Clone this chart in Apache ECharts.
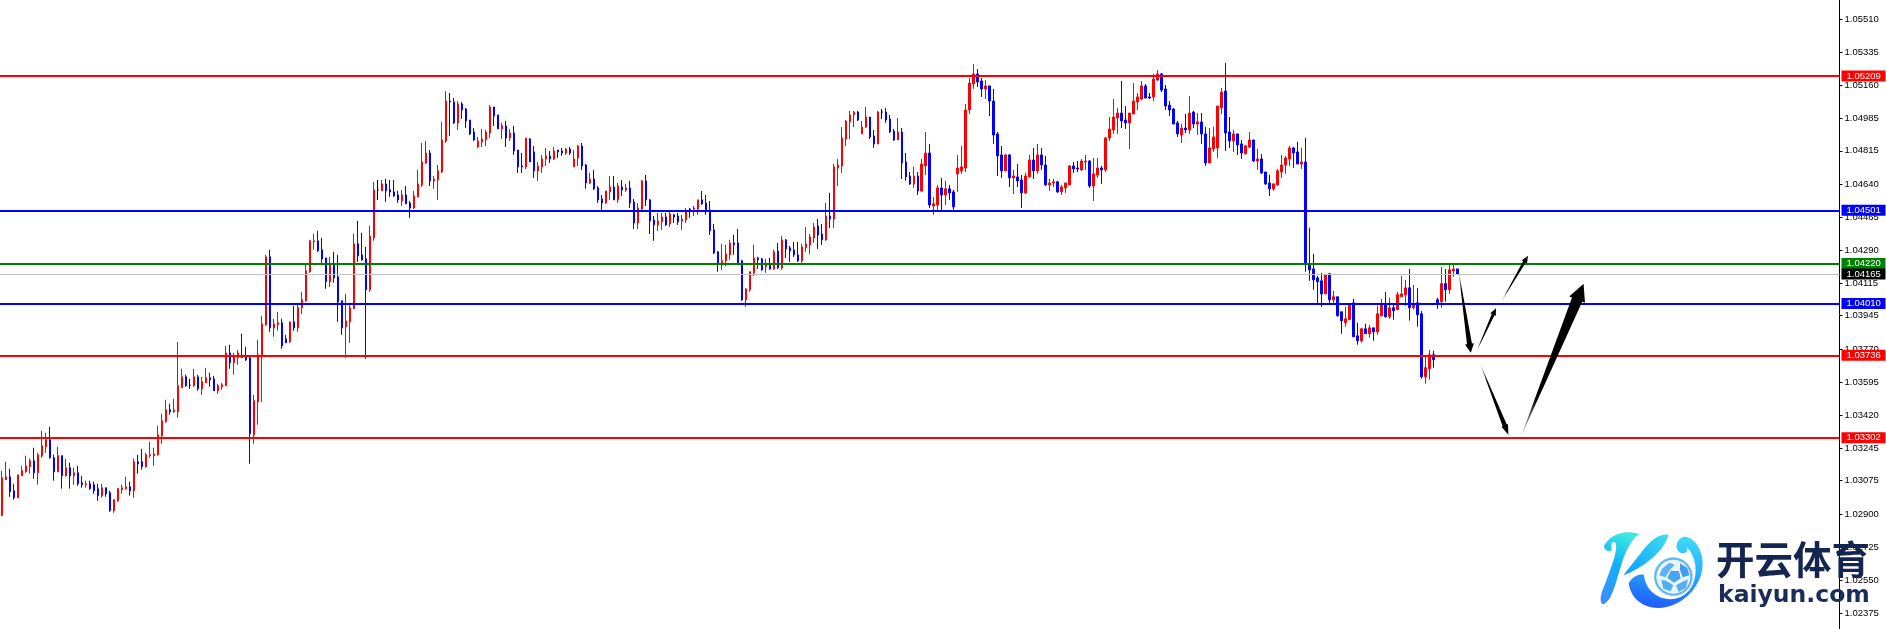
<!DOCTYPE html>
<html><head><meta charset="utf-8">
<style>html,body{margin:0;padding:0;background:#fff}#c{width:1886px;height:629px}</style>
<script src="https://cdn.jsdelivr.net/npm/echarts@6/dist/echarts.min.js"></script>
</head><body><div id="c"></div>
<script>
// Quotes are [open, high, low, close] in points above 1.00000 (1 point = 0.00001)
const barsRallyA = [
[2892,3127,2887,3091],[3080,3175,3080,3096],[3096,3138,2990,3017],[3022,3059,2975,2985],[2985,3106,2985,3106],[3101,3154,3101,3128],[3122,3207,3117,3154],[3149,3191,3112,3180],[3180,3249,3085,3117],[3117,3222,3054,3212],
[3207,3338,3196,3259],[3254,3328,3222,3291],[3291,3359,3191,3196],[3196,3212,3075,3122],[3122,3254,3122,3207],[3207,3207,3033,3101],[3101,3191,3096,3143],[3143,3170,3033,3101],[3101,3143,3054,3117],[3117,3154,3048,3059],
[3064,3101,3038,3054],[3054,3075,3038,3059],[3059,3075,3027,3033],[3054,3070,3006,3022],[3033,3059,2969,2996],[2996,3059,2985,3038],[3038,3038,2990,3006],[3012,3022,2911,2917],[2917,2975,2906,2975],[2969,3038,2964,3033],
[3027,3054,3006,3038],[3033,3096,3027,3043],[3043,3070,2996,3022],[3022,3191,2985,3175],[3175,3212,3112,3164],[3175,3243,3133,3149],[3149,3222,3143,3212],[3207,3280,3196,3212],[3207,3249,3154,3217],[3212,3365,3207,3317],
[3312,3428,3270,3391],[3386,3502,3381,3449],[3449,3481,3423,3438],[3438,3507,3433,3449],[3438,3807,3407,3576],[3565,3665,3565,3623],[3623,3634,3570,3576],[3579,3612,3560,3579],[3576,3665,3570,3623],[3623,3634,3549,3560],
[3560,3623,3528,3597],[3591,3670,3591,3618],[3618,3644,3570,3607],[3612,3628,3549,3549],[3549,3586,3533,3576],[3570,3591,3554,3581],[3576,3786,3576,3749],[3749,3792,3665,3697],[3697,3749,3634,3728],[3723,3765,3686,3749]
];
const barsRallyB = [
[3737,3850,3721,3725],[3734,3781,3707,3713],[3723,3730,3165,3323],[3317,3528,3270,3497],[3491,3818,3370,3739],[3739,3945,3491,3902],[3897,4266,3892,4256],[4256,4293,3860,3881],[3881,3929,3834,3902],[3897,3966,3866,3908],
[3908,3929,3771,3786],[3823,3844,3802,3802],[3808,3913,3802,3913],[3913,3997,3866,3881],[3881,4008,3860,3987],[3987,4071,3955,4029],[4024,4213,4018,4182],[4177,4345,4171,4340],[4335,4377,4293,4340],[4340,4393,4282,4287],
[4293,4356,4224,4245],[4250,4250,4087,4124],[4124,4256,4097,4219],[4219,4282,4119,4145],[4150,4266,3913,4018],[4024,4024,3844,3881],[3887,4061,3723,3918],[3913,4013,3802,3987],[3982,4377,3982,4324],[4324,4445,4229,4261],
[4266,4382,4235,4240],[4245,4308,3718,4082],[4082,4419,4071,4366],[4356,4651,4340,4609],[4609,4661,4556,4609],[4604,4661,4604,4640],[4640,4667,4546,4604],[4609,4661,4572,4598],[4598,4661,4572,4577],[4582,4604,4540,4556]
];
const barsPullback = [
[4550,4608,4524,4582],[4582,4629,4535,4535],[4540,4550,4461,4513],[4513,4603,4508,4577],[4571,4714,4571,4640],[4635,4856,4624,4756],[4751,4867,4745,4803],[4803,4819,4629,4656],[4656,4682,4614,4666],[4661,4740,4556,4709],
[4703,4967,4698,4872],[4867,5130,4856,5077],[5077,5120,4893,5072],[5072,5093,4956,4962],[4962,5077,4925,5062],[5062,5072,4983,5030],[5035,5041,4935,4972],[4977,4977,4898,4904],[4914,4935,4867,4872],[4835,4888,4830,4867],
[4861,4930,4835,4877],[4872,4925,4840,4914],[4909,5056,4882,5046],[5046,5046,4946,4998],[5004,5004,4930,4930],[4930,4962,4877,4946],[4946,4972,4835,4882],[4882,4930,4867,4909],[4909,4946,4793,4814],[4819,4819,4698,4730],
[4735,4803,4698,4730],[4730,4882,4719,4882],[4877,4882,4756,4756],[4809,4840,4672,4709],[4709,4756,4656,4735],[4730,4793,4698,4772],[4772,4830,4735,4788],[4788,4814,4751,4772],[4772,4835,4766,4814],[4819,4819,4777,4809],
[4814,4830,4788,4803],[4803,4830,4793,4824],[4824,4835,4793,4803],[4730,4819,4730,4772],[4777,4846,4735,4840],[4840,4856,4714,4735],[4740,4745,4614,4645],[4645,4698,4640,4666],[4666,4714,4608,4614],[4619,4629,4540,4556],
[4561,4582,4503,4540],[4540,4603,4535,4603],[4598,4682,4556,4624],[4624,4682,4556,4556],[4556,4645,4540,4629],[4624,4661,4577,4608],[4608,4640,4598,4619],[4619,4656,4513,4540],[4545,4561,4403,4434],[4434,4540,4403,4513],
[4508,4661,4503,4656],[4656,4687,4524,4556],[4556,4561,4376,4445],[4450,4471,4340,4424],[4424,4487,4392,4445],[4440,4487,4398,4466],[4466,4487,4419,4424],[4429,4492,4413,4482],[4477,4482,4434,4466],[4471,4487,4424,4440],
[4445,4477,4398,4455],[4450,4513,4434,4498],[4508,4513,4461,4503],[4508,4524,4471,4513],[4508,4556,4477,4556],[4556,4603,4529,4535],[4540,4582,4477,4498],[4503,4550,4371,4392],[4398,4429,4271,4276],[4282,4287,4177,4224],
[4224,4324,4187,4235],[4235,4319,4208,4271],[4266,4345,4240,4329],[4329,4372,4266,4319],[4329,4403,4219,4224],[4235,4240,4024,4029],[4029,4087,3992,4087],[4082,4177,4071,4177],[4171,4319,4155,4250],[4250,4256,4192,4240],
[4245,4250,4182,4187],[4203,4245,4171,4213],[4213,4250,4187,4192],[4192,4293,4187,4282],[4287,4329,4192,4198]
];
const barsRange = [
[4197,4366,4187,4345],[4345,4350,4250,4297],[4303,4313,4229,4287],[4292,4334,4255,4266],[4266,4334,4229,4234],[4234,4324,4224,4308],[4303,4413,4282,4324],[4318,4376,4271,4361],[4355,4434,4329,4413],[4419,4455,4297,4371],
[4376,4429,4318,4345],[4345,4540,4340,4471],[4471,4593,4408,4455],[4455,4745,4408,4730],[4724,4772,4629,4740],[4735,4940,4698,4882],[4877,4977,4840,4972],[4967,5025,4877,5004],[5004,5025,4940,5019],[5019,5025,4972,4977],
[4904,4972,4904,4940],[4940,5046,4935,4993],[4993,4993,4877,4888],[4893,4925,4830,4851],[4851,5025,4851,5019],[5019,5035,4983,5019],[5019,5041,4962,4977],[4983,5004,4909,4914],[4919,4930,4867,4872],[4872,4988,4872,4914],
[4914,4935,4666,4751],[4756,4803,4656,4677],[4682,4703,4635,4640],[4640,4730,4619,4682],[4682,4703,4582,4603],[4603,4772,4598,4745],[4735,4914,4687,4803],[4803,4851,4513,4529],[4524,4571,4477,4535],[4529,4635,4503,4619],
[4619,4672,4492,4582],[4582,4656,4529,4614],[4614,4635,4556,4593],[4598,4608,4503,4519],[4693,4793,4598,4724],[4709,4840,4693,4730],[4724,5062,4703,5030],[5030,5199,5009,5172],[5167,5272,5141,5220],[5220,5246,5151,5178],
[5183,5199,5099,5141],[5141,5188,5088,5157],[5157,5157,4998,5077],[5077,5141,4851,4898],[4904,4914,4682,4788],[4793,4840,4672,4709],[4709,4798,4709,4793],[4793,4798,4624,4672],[4672,4714,4587,4682],[4677,4745,4624,4656],
[4661,4687,4513,4593],[4593,4698,4587,4682],[4677,4793,4677,4766],[4766,4830,4666,4709],[4709,4851,4693,4793],[4793,4830,4714,4740],[4740,4788,4629,4635],[4635,4666,4603,4645],[4645,4666,4624,4651],[4651,4656,4593,4598],
[4598,4635,4582,4624],[4619,4645,4593,4645],[4635,4740,4635,4735],[4735,4756,4698,4719],[4724,4761,4703,4719],[4714,4772,4709,4761],[4756,4793,4714,4761],[4761,4766,4619,4629],[4629,4777,4550,4693],[4687,4777,4672,4724],
[4724,4735,4640,4714],[4714,4888,4703,4882],[4882,4993,4867,4930],[4925,5088,4904,4993],[4988,5041,4904,5014],[5014,5183,4935,4972],[4977,5051,4930,4962],[4962,5014,4824,5014],[5009,5172,5009,5077],[5072,5120,5030,5099],
[5088,5183,5083,5157],[5157,5167,5093,5093],[5099,5120,5088,5093],[5099,5220,5077,5193],[5188,5241,5183,5220],[5220,5225,5125,5135],[5141,5162,5030,5051],[5056,5077,4998,5030],[5035,5041,4956,4956],[4962,4972,4888,4904]
];
const barsSelloff = [
[4898,4956,4856,4935],[4935,5009,4909,4925],[4925,5104,4904,5014],[5019,5025,4935,4956],[4956,5014,4898,4967],[4967,5014,4851,4904],[4904,4941,4735,4751],[4751,4935,4751,4830],[4825,4941,4809,4888],[4830,5051,4777,5051],
[5041,5146,5009,5125],[5130,5278,4814,4909],[4914,4993,4830,4867],[4867,4925,4809,4904],[4904,4904,4793,4846],[4851,4872,4772,4803],[4798,4846,4798,4841],[4835,4914,4830,4872],[4872,4872,4756,4761],[4761,4825,4714,4772],
[4772,4798,4693,4698],[4703,4703,4635,4640],[4645,4688,4577,4614],[4614,4645,4604,4640],[4635,4719,4630,4709],[4703,4793,4672,4740],[4740,4788,4693,4777],[4772,4841,4735,4830],[4830,4835,4725,4803],[4809,4862,4745,4745],
[4745,4830,4719,4756],[4756,4883,4177,4219],[4219,4409,4129,4187],[4192,4271,4082,4134],[4145,4155,4013,4124],[4129,4171,3992,4060],[4060,4166,4060,4161],[4166,4171,4013,4029],[4029,4077,4003,4045],[4045,4045,3940,3945],
[3966,3966,3850,3919],[3908,3992,3887,3929],[3924,4013,3924,4008],[4013,4034,3834,3834],[3839,3908,3792,3813],[3813,3881,3803,3876],[3876,3903,3850,3850],[3850,3897,3829,3881],[3881,3881,3813,3860],[3860,3998,3845,3955],
[3945,4034,3940,4003],[4003,4071,3934,3940],[3940,4040,3929,3987],[3987,4003,3924,3971],[3977,4071,3977,4056],[4045,4155,4045,4060],[4056,4134,3998,4092],[4092,4192,3919,3987],[3987,4108,3977,4008],[4013,4092,3887,3950],
[3955,3971,3613,3623],[3623,3729,3586,3671],[3666,3766,3608,3739],[3739,3760,3671,3713],[4029,4040,3982,4013],[4019,4203,3987,4114],[4114,4192,4019,4082],[4082,4214,4060,4187],[4182,4214,4150,4192],[4192,4192,4161,4165]
];
const tickLabels = [1.05510,1.05335,1.05160,1.04985,1.04815,1.04640,1.04465,1.04290,1.04115,1.03945,1.03770,1.03595,1.03420,1.03245,1.03075,1.02900,1.02725,1.02550,1.02375];
const levelPrices = [1.05209,1.04501,1.04220,1.04165,1.04010,1.03736,1.03302];
const levelColours = ['#ff0000','#0000ff','#008000','#c0c0c0','#0000ff','#ff0000','#ff0000'];
// Forecast arrows: [tail bar, tail price points, tip bar, tip price points]
const forecastArrows = [[364.2,4187,367.3,3750],[368.6,3751,373.6,3985],[374.8,4015,381.6,4261],[369.6,3695,376.7,3318],[379.8,3305,395.5,4113]];
const arrowShaft = [5,3,3,4.5,11];
const arrowHeadW = [9,6,6,7,17];
const arrowHeadL = [9,7,7,10,17];

const priceMax = 1.05610, priceMin = 1.02293, slotCount = 460;
const bars = [].concat(barsRallyA,barsRallyB,barsPullback,barsRange,barsSelloff);
const toPrice = p => 1 + p/100000;
const candleData = bars.map(b => [toPrice(b[0]),toPrice(b[3]),toPrice(b[2]),toPrice(b[1])]);
const cats = Array.from({length:slotCount},(_,i)=>String(i));
const axisFont = '"Liberation Sans", Arial, sans-serif';

const logoSvg = `<svg xmlns="http://www.w3.org/2000/svg" viewBox="0 0 390 327" width="390" height="327">
<defs>
<linearGradient id="a" x1="0.5" y1="0" x2="0.3" y2="1"><stop offset="0" stop-color="#3fe8e0"/><stop offset="0.45" stop-color="#0fb0ff"/><stop offset="1" stop-color="#3f8cff"/></linearGradient>
<linearGradient id="b" x1="1" y1="0" x2="0" y2="1"><stop offset="0" stop-color="#40dff0"/><stop offset="1" stop-color="#0a9cff"/></linearGradient>
<linearGradient id="c" x1="0.6" y1="0" x2="0.4" y2="1"><stop offset="0" stop-color="#3fd8f8"/><stop offset="0.5" stop-color="#22a8ff"/><stop offset="1" stop-color="#1f5cff"/></linearGradient>
</defs>
<path fill="url(#a)" d="M72 78C85 50 125 25 178 42C152 60 136 95 122 140C106 190 98 238 72 252C58 258 60 226 70 205C95 140 112 95 108 72C100 58 90 70 96 90C85 97 72 90 72 78Z"/>
<path fill="url(#b)" d="M266 44C232 38 202 72 182 100L130 166C172 150 212 122 236 96C250 80 260 62 266 44Z"/>
<path fill="url(#c)" d="M146 190C156 172 175 160 192 165C195 205 230 242 280 237C325 232 352 190 346 135C342 108 328 88 320 82C328 95 312 106 298 96C282 84 290 54 312 50C350 52 370 100 368 135C365 205 300 264 235 264C190 264 152 236 146 190Z"/>
<circle cx="280" cy="170" r="57" fill="#5ab4f2" stroke="#8ccaf6" stroke-width="3"/>
<circle cx="280" cy="170" r="51" fill="#e8f5fe"/>
<polygon points="272,150 298,152 304,176 282,190 260,174" fill="#4aa6ee" stroke="#fff" stroke-width="3"/>
<path d="M246 146L268 128L284 134L270 150L256 172L238 166Z" fill="#5cb4f4"/><path d="M300 130L322 144L328 166L308 172L300 150Z" fill="#3f9cec"/>
<path d="M244 180L258 182L280 196L272 214L250 206Z" fill="#4fb0f2"/><path d="M306 186L324 178L318 204L296 216L288 196Z" fill="#58b0f0"/>
</svg>`;

const chart = echarts.init(document.getElementById('c'), null, {renderer:'canvas'});
chart.setOption({
  animation:false,
  backgroundColor:'#ffffff',
  grid:{left:-0.5,top:0,width:1840,height:629,containLabel:false},
  xAxis:[
    {type:'category',data:cats,show:false,boundaryGap:true},
    {type:'value',min:-0.5,max:slotCount-0.5,show:false}
  ],
  yAxis:{
    type:'value',position:'right',min:priceMin,max:priceMax,scale:true,
    axisLine:{show:true,onZero:false,lineStyle:{color:'#000',width:1}},
    axisTick:{show:true,length:3,inside:false,customValues:tickLabels,lineStyle:{color:'#000',width:1}},
    axisLabel:{show:true,margin:5,customValues:tickLabels,color:'#000',fontFamily:axisFont,fontSize:9.5,formatter:v=>v.toFixed(5)},
    splitLine:{show:false}
  },
  series:[
    {
      type:'candlestick',xAxisIndex:0,yAxisIndex:0,barWidth:2,data:candleData,silent:true,
      itemStyle:{color:'#ff0000',color0:'#0000ff',borderColor:'#ff0000',borderColor0:'#0000ff',borderColorDoji:'#000000',borderWidth:1},
      markLine:{
        silent:true,symbol:'none',animation:false,precision:5,
        data:levelPrices.map((p,i)=>({
          yAxis:p,
          lineStyle:{color:levelColours[i],width:levelColours[i]==='#c0c0c0'?1:2,type:'solid'},
          label:{show:true,position:'end',distance:2,formatter:p.toFixed(5),color:'#fff',fontFamily:axisFont,fontSize:9.5,
            backgroundColor:i===3?'#000000':levelColours[i],width:39,height:11,lineHeight:11,align:'left',padding:[0,0,0,5]}
        }))
      }
    },
    {
      type:'custom',xAxisIndex:1,yAxisIndex:0,silent:true,clip:false,z:6,
      data:forecastArrows,
      renderItem:(params,api)=>{
        const i=params.dataIndex;
        const a=api.coord([api.value(0),toPrice(api.value(1))]);
        const t=api.coord([api.value(2),toPrice(api.value(3))]);
        const dx=t[0]-a[0],dy=t[1]-a[1],len=Math.hypot(dx,dy),ux=dx/len,uy=dy/len,nx=-uy,ny=ux;
        const hl=arrowHeadL[i],hw=arrowHeadW[i]/2,sw=arrowShaft[i]/2;
        const bx=t[0]-ux*hl,by=t[1]-uy*hl;
        return {type:'polygon',shape:{points:[
          a,
          [bx+nx*sw,by+ny*sw],[bx+nx*hw,by+ny*hw],t,[bx-nx*hw,by-ny*hw],[bx-nx*sw,by-ny*sw]
        ]},style:{fill:{type:'linear',global:true,x:a[0],y:a[1],x2:t[0],y2:t[1],colorStops:[
          {offset:0,color:'rgba(0,0,0,0.15)'},{offset:0.25,color:'#000'},{offset:1,color:'#000'}]}}};
      }
    }
  ],
  graphic:{elements:[
    {type:'image',z:100,x:1580,y:520,silent:true,style:{image:'data:image/svg+xml;charset=utf-8,'+encodeURIComponent(logoSvg),width:130,height:109}},
    {type:'text',z:101,x:1716,y:559,silent:true,style:{text:'开云体育',font:'bold 38.5px "Noto Sans CJK SC"',fill:'#14264f',textVerticalAlign:'middle',textAlign:'left'}},
    {type:'text',z:101,x:1718,y:596,silent:true,style:{text:'kaiyun.com',font:'bold 23.5px "DejaVu Sans"',fill:'#1a2c58',textVerticalAlign:'middle',textAlign:'left'}}
  ]}
});
</script></body></html>
